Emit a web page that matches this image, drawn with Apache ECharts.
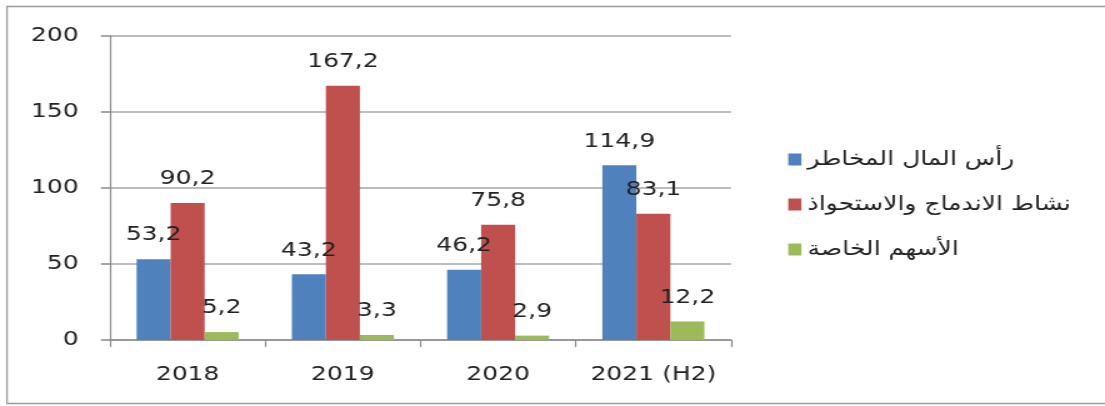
<!DOCTYPE html>
<html>
<head>
<meta charset="utf-8">
<script src="https://cdn.jsdelivr.net/npm/echarts@6/dist/echarts.min.js"></script>
<style>
html,body{margin:0;padding:0;background:#fff;overflow:hidden;}
#wrap{width:1105px;height:406px;overflow:hidden;}
#c{width:884px;height:406px;transform:scaleX(1.25);transform-origin:0 0;}
</style>
</head>
<body>
<div id="wrap"><div id="c"></div></div>
<script>
const categories = ['2018', '2019', '2020', '2021 (H2)'];
const seriesNames = ['رأس المال المخاطر', 'نشاط الاندماج والاستحواذ', 'الأسهم الخاصة'];
const ventureCapital = [53.2, 43.2, 46.2, 114.9];
const mergersAcquisitions = [90.2, 167.2, 75.8, 83.1];
const privateEquity = [5.2, 3.3, 2.9, 12.2];
const yTicks = [0, 50, 100, 150, 200];

const colors = ['#4F81BD', '#C0504D', '#9BBB59'];
const fontFam = '"DejaVu Sans", Verdana, sans-serif';
const fmt = v => String(v.toFixed(1)).replace('.', ',');

const chart = echarts.init(document.getElementById('c'), null, {renderer: 'canvas'});
const mk = (name, data, i) => ({
  name: name,
  type: 'bar',
  data: data,
  barWidth: 27.2,
  barGap: '0%',
  itemStyle: {color: colors[i]},
  label: {
    show: true,
    position: 'top',
    distance: 14,
    fontFamily: fontFam,
    fontSize: 20,
    color: '#222',
    formatter: p => fmt(p.value)
  }
});
chart.setOption({
  animation: false,
  backgroundColor: '#fff',
  graphic: [{
    type: 'rect',
    shape: {x: 5.6, y: 6.5, width: 900, height: 397},
    style: {fill: 'none', stroke: '#9a9a9a', lineWidth: 1.3},
    silent: true
  }],
  grid: {left: 88, right: 299.2, top: 36, bottom: 66},
  legend: {
    orient: 'vertical',
    left: 625.6,
    top: 144,
    itemWidth: 10.5,
    itemHeight: 12,
    itemGap: 24,
    icon: 'rect',
    data: seriesNames,
    textStyle: {fontFamily: fontFam, fontSize: 20, color: '#222', lineHeight: 21}
  },
  xAxis: {
    type: 'category',
    data: categories,
    axisLine: {lineStyle: {color: '#8c8c8c', width: 1.5}},
    axisTick: {show: true, length: 7, lineStyle: {color: '#8c8c8c', width: 1.2}},
    axisLabel: {interval: 0, hideOverlap: false, fontFamily: fontFam, fontSize: 20, color: '#222', margin: 25}
  },
  yAxis: {
    type: 'value',
    min: 0,
    max: 200,
    interval: 50,
    axisLine: {show: true, lineStyle: {color: '#8c8c8c', width: 1.2}},
    axisTick: {show: true, length: 7.2, lineStyle: {color: '#8c8c8c', width: 1.5}},
    axisLabel: {fontFamily: fontFam, fontSize: 20, color: '#222', margin: 25,
      formatter: v => yTicks.includes(v) ? String(v) : ''},
    splitLine: {lineStyle: {color: '#a6a6a6', width: 1.5}}
  },
  series: [
    mk(seriesNames[0], ventureCapital, 0),
    mk(seriesNames[1], mergersAcquisitions, 1),
    mk(seriesNames[2], privateEquity, 2)
  ]
});
</script>
</body>
</html>
